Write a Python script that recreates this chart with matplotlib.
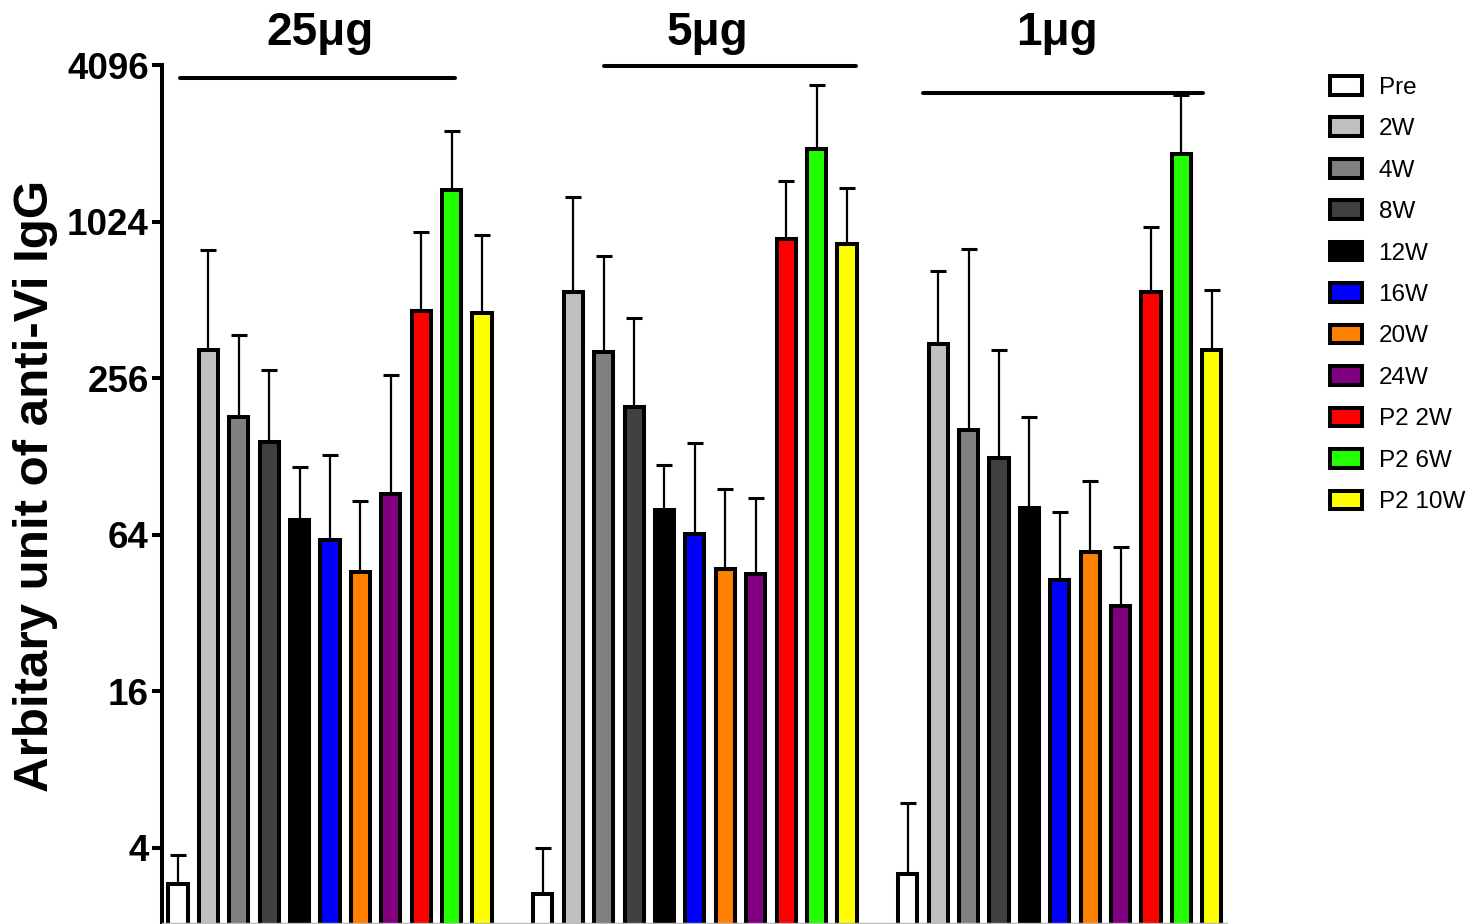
import numpy as np
import matplotlib
matplotlib.use('Agg')
import matplotlib.pyplot as plt
import matplotlib.transforms as mtransforms

plt.rcParams['font.family'] = ['Liberation Sans', 'DejaVu Sans']

# data (mean and upper SD, log2 axis)
groups = ['25μg', '5μg', '1μg']
labels = ['Pre', '2W', '4W', '8W', '12W', '16W', '20W', '24W', 'P2 2W', 'P2 6W', 'P2 10W']
colors = ['#ffffff', '#c0c0c0', '#808080', '#404040', '#000000', '#0000ff',
          '#ff7f00', '#800080', '#ff0000', '#22ff00', '#ffff00']

mean_25 = [2.9, 329, 181, 145, 72.5, 61, 46, 92, 463, 1356, 455]
sd_25 = [0.86, 468, 195, 130, 43.5, 68, 40, 172, 474, 917, 455]
mean_5 = [2.64, 549, 321, 198, 79.8, 64.4, 47, 45.2, 876, 1943, 841]
sd_5 = [1.36, 727, 432, 238, 38.2, 79.6, 48.9, 43.4, 586, 1490, 531]
mean_1 = [3.16, 347, 162, 126, 81, 42.7, 55, 34.1, 548, 1860, 328]
sd_1 = [2.78, 311, 644, 202, 100, 35.2, 47.6, 23.2, 430, 1279, 229]

yticks = [4, 16, 64, 256, 1024, 4096]

means = [mean_25, mean_5, mean_1]
sds = [sd_25, sd_5, sd_1]

fig = plt.figure(figsize=(14.77, 9.24), dpi=100)
ax = fig.add_axes([162 / 1477, 1 / 924, 1065 / 1477, 858 / 924])

n = len(labels)
handles = []
for g in range(len(groups)):
    x = g * (n + 1) + np.arange(n)
    m = np.array(means[g])
    s = np.array(sds[g])
    ax.errorbar(x, m, yerr=[np.zeros(n), s], fmt='none', ecolor='black',
                elinewidth=1.6, capsize=6, capthick=2.2, zorder=1)
    bars = ax.bar(x, m, width=0.63, color=colors, edgecolor='black',
                  linewidth=2.9, zorder=2)
    for b in bars:
        b.set_joinstyle('miter')
    if g == 0:
        handles = list(bars)

ax.set_yscale('log', base=2)
ax.set_ylim(2.05, 4096)
ax.set_xlim(-0.526, 34.5)
ax.set_yticks(yticks)
ax.set_yticklabels([str(t) for t in yticks], fontsize=26.5, fontweight='bold')
ax.minorticks_off()
ax.set_xticks([])
ax.tick_params(axis='y', direction='out', length=7.5, width=2.9, pad=2)

for side in ['top', 'right']:
    ax.spines[side].set_visible(False)
ax.spines['left'].set_linewidth(2.9)
ax.spines['bottom'].set_linewidth(1)
ax.spines['bottom'].set_color('#bbbbbb')

ax.set_ylabel('Arbitary unit of anti-Vi IgG', fontsize=35.5, fontweight='bold')
ax.yaxis.set_label_coords(-0.098, 0.509)

# group headers with bars over each dose
trans = mtransforms.blended_transform_factory(ax.transData, ax.transAxes)
title_x = [4.67, 17.4, 28.9]
line_x = [(0.07, 9.11), (14.0, 22.3), (24.5, 33.7)]
line_y = [0.985, 0.9988, 0.967]
for g in range(len(groups)):
    ax.text(title_x[g], 1.0233, groups[g], transform=trans, ha='center',
            va='baseline', fontsize=33, fontweight='bold')
    ax.plot(line_x[g], [line_y[g], line_y[g]], transform=trans, color='black',
            lw=2.9, solid_capstyle='round', clip_on=False)

leg = fig.legend(handles, labels, loc='upper left',
                 bbox_to_anchor=(1330 / 1477, 1 - 76 / 924), frameon=False,
                 fontsize=17.5, borderpad=0, borderaxespad=0,
                 handlelength=1.3, handleheight=0.8, handletextpad=0.7,
                 labelspacing=0.77)

fig.savefig('out.png', dpi=100)
